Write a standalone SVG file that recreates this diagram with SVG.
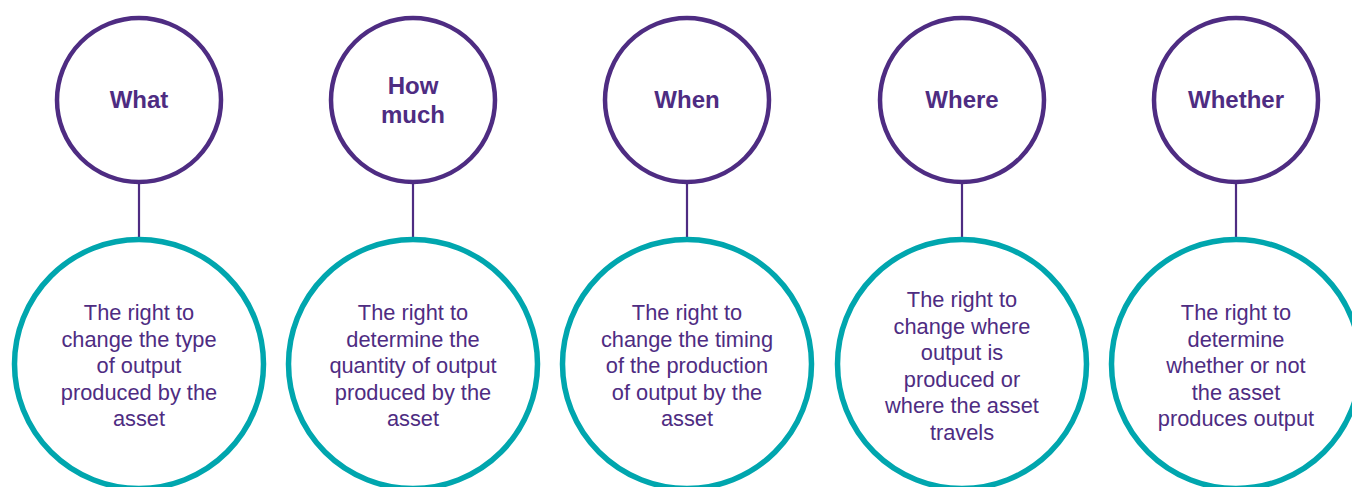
<svg xmlns="http://www.w3.org/2000/svg" width="1352" height="487" viewBox="0 0 1352 487">
<style>
.top{fill:#fff;stroke:#4E2C82;stroke-width:4.5}
.bot{fill:#fff;stroke:#00A6AE;stroke-width:5.5}
.conn{stroke:#4E2C82;stroke-width:2.2}
.t{font-family:"Liberation Sans",Arial,sans-serif;font-weight:bold;font-size:24px;fill:#4E2C82;text-anchor:middle}
.b{font-family:"Liberation Sans",Arial,sans-serif;font-size:21.8px;fill:#4E2C82;text-anchor:middle}
</style>
<rect width="1352" height="487" fill="#fff"/>
<g id="connectors">
<line class="conn" x1="139" y1="184" x2="139" y2="238"/>
<line class="conn" x1="413" y1="184" x2="413" y2="238"/>
<line class="conn" x1="687" y1="184" x2="687" y2="238"/>
<line class="conn" x1="962" y1="184" x2="962" y2="238"/>
<line class="conn" x1="1236" y1="184" x2="1236" y2="238"/>
</g>
<g id="what">
<circle class="top" cx="139" cy="100" r="82"/>
<text class="t" x="139" y="108">What</text>
</g>
<g id="what-desc">
<circle class="bot" cx="139" cy="364" r="124.5"/>
<text class="b" x="139" y="320">The right to</text>
<text class="b" x="139" y="346.5">change the type</text>
<text class="b" x="139" y="373">of output</text>
<text class="b" x="139" y="399.5">produced by the</text>
<text class="b" x="139" y="426">asset</text>
</g>
<g id="howmuch">
<circle class="top" cx="413" cy="100" r="82"/>
<text class="t" x="413" y="94">How</text>
<text class="t" x="413" y="123">much</text>
</g>
<g id="howmuch-desc">
<circle class="bot" cx="413" cy="364" r="124.5"/>
<text class="b" x="413" y="320">The right to</text>
<text class="b" x="413" y="346.5">determine the</text>
<text class="b" x="413" y="373">quantity  of output</text>
<text class="b" x="413" y="399.5">produced by the</text>
<text class="b" x="413" y="426">asset</text>
</g>
<g id="when">
<circle class="top" cx="687" cy="100" r="82"/>
<text class="t" x="687" y="108">When</text>
</g>
<g id="when-desc">
<circle class="bot" cx="687" cy="364" r="124.5"/>
<text class="b" x="687" y="320">The right to</text>
<text class="b" x="687" y="346.5">change the timing</text>
<text class="b" x="687" y="373">of the production</text>
<text class="b" x="687" y="399.5">of output by the</text>
<text class="b" x="687" y="426">asset</text>
</g>
<g id="where">
<circle class="top" cx="962" cy="100" r="82"/>
<text class="t" x="962" y="108">Where</text>
</g>
<g id="where-desc">
<circle class="bot" cx="962" cy="364" r="124.5"/>
<text class="b" x="962" y="307">The right to</text>
<text class="b" x="962" y="333.5">change where</text>
<text class="b" x="962" y="360">output is</text>
<text class="b" x="962" y="386.5">produced or</text>
<text class="b" x="962" y="413">where the asset</text>
<text class="b" x="962" y="439.5">travels</text>
</g>
<g id="whether">
<circle class="top" cx="1236" cy="100" r="82"/>
<text class="t" x="1236" y="108">Whether</text>
</g>
<g id="whether-desc">
<circle class="bot" cx="1236" cy="364" r="124.5"/>
<text class="b" x="1236" y="320">The right to</text>
<text class="b" x="1236" y="346.5">determine</text>
<text class="b" x="1236" y="373">whether or not</text>
<text class="b" x="1236" y="399.5">the asset</text>
<text class="b" x="1236" y="426">produces output</text>
</g>
</svg>
